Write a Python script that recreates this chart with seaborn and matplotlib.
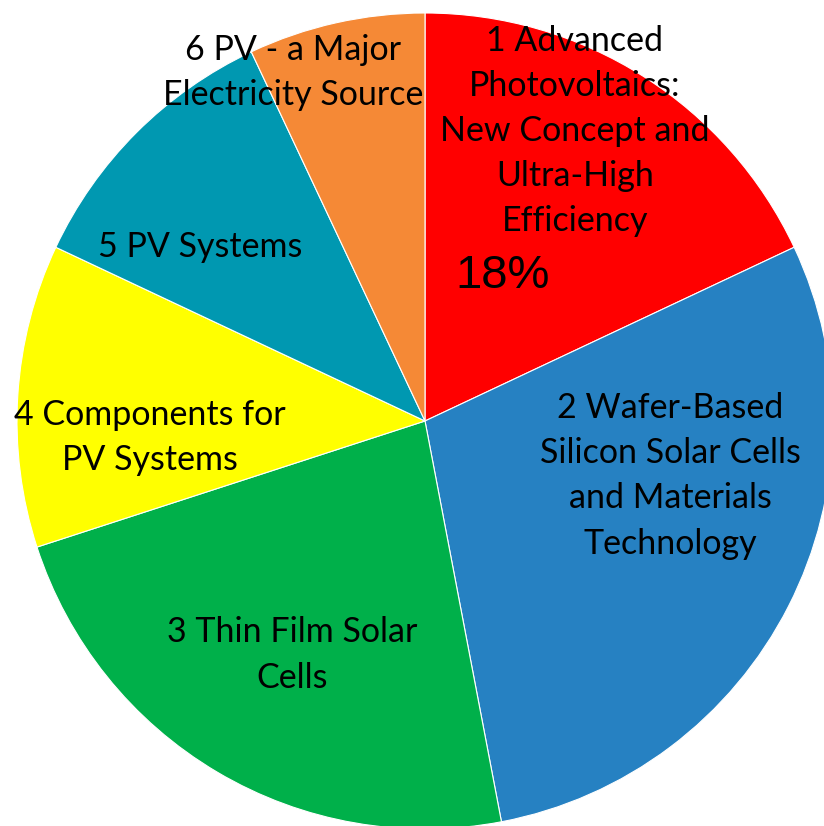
import matplotlib
matplotlib.use("Agg")
import matplotlib.pyplot as plt
import seaborn as sns

# Research topic shares (percent)
topics = [
    "1 Advanced\nPhotovoltaics:\nNew Concept and\nUltra-High\nEfficiency",
    "2 Wafer-Based\nSilicon Solar Cells\nand Materials\nTechnology",
    "3 Thin Film Solar\nCells",
    "4 Components for\nPV Systems",
    "5 PV Systems",
    "6 PV - a Major\nElectricity Source",
]
shares = [18, 29, 23, 12, 11, 7]
colors = ["#FF0000", "#2681C2", "#00B04A", "#FFFF00", "#0098B1", "#F58936"]

sns.set_theme(style="white")
plt.rcParams["font.family"] = ["Lato", "DejaVu Sans"]

W, H = 824, 826
fig = plt.figure(figsize=(W / 100, H / 100), dpi=100)
ax = fig.add_axes([0, 0, 1, 1])

wedges, _ = ax.pie(
    shares,
    colors=colors,
    startangle=90,
    counterclock=False,
    radius=1.0,
    wedgeprops=dict(edgecolor="white", linewidth=0.8),
)

# pixel layout: centre at (425, 421) from top-left, radius 408 px
R = 408.0
cx, cy = 425.0, 421.0
ax.set_xlim(-cx / R, (W - cx) / R)
ax.set_ylim(-(H - cy) / R, cy / R)
ax.set_aspect("auto")
ax.axis("off")


def px(x, y):
    return (x - cx) / R, (cy - y) / R


label_pos = [(575, 131), (670, 476), (292, 655), (150, 438), (200, 247), (293, 73)]
for text, (x, y) in zip(topics, label_pos):
    ax.text(*px(x, y), text, ha="center", va="center", fontsize=24.5,
            color="black", linespacing=1.5)

ax.text(*px(503, 276), f"{shares[0]}%", ha="center", va="center",
        fontsize=34, color="black", family=["Liberation Sans", "DejaVu Sans"])

fig.savefig("out.png", dpi=100)
